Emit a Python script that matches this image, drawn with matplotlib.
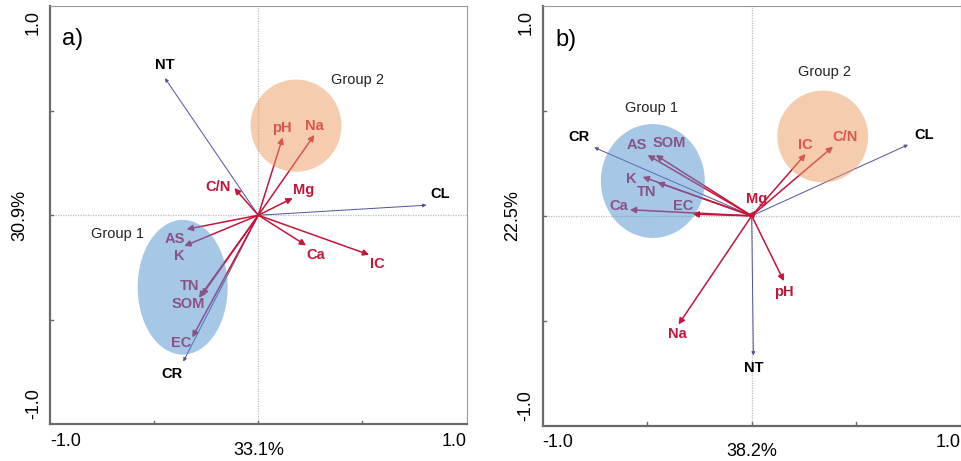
import matplotlib.pyplot as plt
from matplotlib.patches import Ellipse

plt.rcParams['font.family'] = ['Liberation Sans', 'DejaVu Sans']

# panel a) soil properties (red) and treatments (blue)
soil_a = ['pH', 'Na', 'C/N', 'Mg', 'Ca', 'IC', 'AS', 'K', 'TN', 'SOM', 'EC']
soil_a_x = [0.117, 0.269, -0.115, 0.165, 0.229, 0.532, -0.344, -0.355, -0.272, -0.285, -0.317]
soil_a_y = [0.372, 0.384, 0.130, 0.082, -0.144, -0.189, -0.067, -0.147, -0.384, -0.395, -0.584]
trt_a = ['NT', 'CL', 'CR']
trt_a_x = [-0.448, 0.807, -0.360]
trt_a_y = [0.655, 0.048, -0.699]
axis_a = ('33.1%', '30.9%')

# panel b)
soil_b = ['IC', 'C/N', 'Mg', 'pH', 'Na', 'AS', 'SOM', 'K', 'TN', 'Ca', 'EC']
soil_b_x = [0.258, 0.389, 0.020, 0.154, -0.350, -0.498, -0.459, -0.522, -0.451, -0.583, -0.283]
soil_b_y = [0.295, 0.330, 0.025, -0.311, -0.518, 0.290, 0.290, 0.186, 0.159, 0.029, 0.008]
trt_b = ['CR', 'CL', 'NT']
trt_b_x = [-0.753, 0.748, 0.008]
trt_b_y = [0.326, 0.339, -0.666]
axis_b = ('38.2%', '22.5%')

# label offsets from arrow tips (data units)
off_a = {'pH': (-0.005, 0.044), 'Na': (0, 0.044), 'C/N': (-0.077, 0.006),
         'Mg': (0.051, 0.040), 'Ca': (0.048, -0.046), 'IC': (0.040, -0.043),
         'AS': (-0.056, -0.045), 'K': (-0.025, -0.048), 'TN': (-0.059, 0.045),
         'SOM': (-0.051, -0.027), 'EC': (-0.051, -0.027),
         'NT': (0, 0.064), 'CL': (0.067, 0.054), 'CR': (-0.056, -0.061)}
off_b = {'IC': (0, 0.044), 'C/N': (0.060, 0.047), 'Mg': (0.002, 0.055),
         'pH': (0, -0.052), 'Na': (-0.005, -0.047), 'AS': (-0.053, 0.048),
         'SOM': (0.064, 0.056), 'K': (-0.056, -0.008), 'TN': (-0.051, -0.044),
         'Ca': (-0.051, 0.019), 'EC': (-0.043, 0.037),
         'CR': (-0.075, 0.051), 'CL': (0.075, 0.046), 'NT': (0, -0.059)}

RED = '#C4153A'
NAVY = '#4E529C'
BLUE_FILL = '#5191D1'
ORANGE_FILL = '#EE9A5E'


def draw_panel(ax, tag, names, xs, ys, tnames, txs, tys, offs, axlab,
               groups):
    ax.set_xlim(-1, 1)
    ax.set_ylim(-1, 1)
    ax.set_xticks([])
    ax.set_yticks([])
    for s in ['top', 'right']:
        ax.spines[s].set_color('#9a9a9a')
        ax.spines[s].set_linewidth(0.8)
    for s in ['left', 'bottom']:
        ax.spines[s].set_color('#6a6a6a')
        ax.spines[s].set_linewidth(1.6)

    # dotted cross through the origin
    ax.axhline(0, color='#bdbdbd', lw=0.9, ls=(0, (1, 1)), zorder=1)
    ax.axvline(0, color='#bdbdbd', lw=0.9, ls=(0, (1, 1)), zorder=1)

    # short inward ticks
    for v in (-0.5, 0, 0.5):
        ax.plot([v, v], [-1, -0.985], color='#6a6a6a', lw=1, zorder=2)
        ax.plot([-1, -0.985], [v, v], color='#6a6a6a', lw=1, zorder=2)

    for n, x, y in zip(tnames, txs, tys):
        ax.annotate('', xy=(x, y), xytext=(0, 0),
                    arrowprops=dict(arrowstyle='-|>', color=NAVY, lw=0.7,
                                    mutation_scale=5, shrinkA=0, shrinkB=0),
                    zorder=3)
        dx, dy = offs[n]
        ax.text(x + dx, y + dy, n, color='black', fontsize=10.5,
                fontweight='bold', ha='center', va='center', zorder=3)

    for n, x, y in zip(names, xs, ys):
        ax.annotate('', xy=(x, y), xytext=(0, 0),
                    arrowprops=dict(arrowstyle='-|>', color=RED, lw=1.1,
                                    mutation_scale=9, shrinkA=0, shrinkB=0),
                    zorder=3)
        dx, dy = offs[n]
        ax.text(x + dx, y + dy, n, color=RED, fontsize=10.5,
                fontweight='bold', ha='center', va='center', zorder=3)

    # translucent group ellipses laid over the vectors
    for (cx, cy, w, h, col, lab, lx, ly) in groups:
        ax.add_patch(Ellipse((cx, cy), w, h, facecolor=col, edgecolor='none',
                             alpha=0.5, zorder=4))
        ax.text(lx, ly, lab, fontsize=10.5, color='#222222', ha='center',
                va='center', zorder=5)

    ax.text(0.055, 0.92, tag, transform=ax.transAxes, fontsize=17,
            ha='center', va='center')

    # axis end labels and explained variance
    ax.text(0, -0.04, '-1.0', transform=ax.transAxes, fontsize=13,
            ha='left', va='center')
    ax.text(1, -0.04, '1.0', transform=ax.transAxes, fontsize=13,
            ha='right', va='center')
    ax.text(-0.04, 0.99, '1.0', transform=ax.transAxes, fontsize=13,
            ha='center', va='top', rotation=90)
    ax.text(-0.04, 0.012, '-1.0', transform=ax.transAxes, fontsize=13,
            ha='center', va='bottom', rotation=90)
    ax.text(0.5, -0.062, axlab[0], transform=ax.transAxes, fontsize=13,
            ha='center', va='center')
    ax.text(-0.072, 0.5, axlab[1], transform=ax.transAxes, fontsize=13,
            ha='center', va='center', rotation=90)


fig = plt.figure(figsize=(9.61, 4.61), dpi=100)
ax1 = fig.add_axes([0.052, 0.0792, 0.4336, 0.9078])
ax2 = fig.add_axes([0.5647, 0.0768, 0.435, 0.910])

draw_panel(ax1, 'a)', soil_a, soil_a_x, soil_a_y, trt_a, trt_a_x, trt_a_y,
           off_a, axis_a,
           [(0.181, 0.428, 0.436, 0.441, ORANGE_FILL, 'Group 2', 0.476, 0.644),
            (-0.363, -0.344, 0.432, 0.644, BLUE_FILL, 'Group 1', -0.676, -0.088)])
draw_panel(ax2, 'b)', soil_b, soil_b_x, soil_b_y, trt_b, trt_b_x, trt_b_y,
           off_b, axis_b,
           [(0.340, 0.378, 0.435, 0.438, ORANGE_FILL, 'Group 2', 0.346, 0.688),
            (-0.473, 0.166, 0.497, 0.543, BLUE_FILL, 'Group 1', -0.478, 0.513)])

fig.savefig('out.png', dpi=100)
